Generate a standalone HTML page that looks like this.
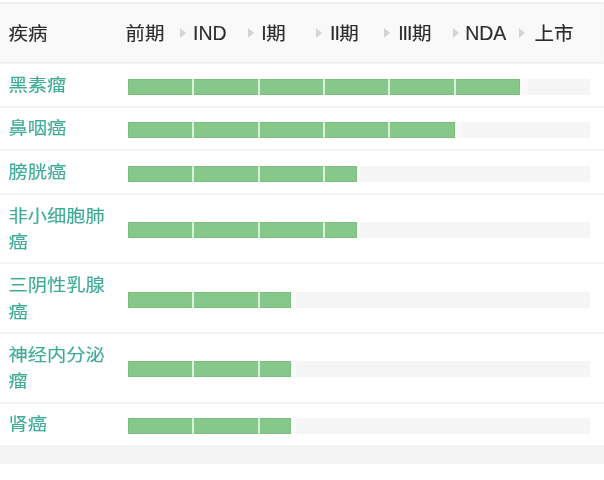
<!DOCTYPE html>
<html><head><meta charset="utf-8">
<style>
html,body{margin:0;padding:0;width:604px;height:480px;overflow:hidden;background:#fff;}
body{position:relative;filter:blur(0.4px);font-family:"Liberation Sans","Noto Sans CJK SC",sans-serif;}
.topline{position:absolute;left:0;top:2px;width:604px;height:2px;background:#f0f0f0;}
.hd{position:absolute;left:0;top:3px;width:604px;height:61px;background:#f9f9f9;}
.hdb{position:absolute;left:0;top:62px;width:604px;height:1px;background:#f0f0f0;box-shadow:0 1px 0 #f4f4f4;}
.t{position:absolute;line-height:20px;font-weight:400;white-space:nowrap;transform-origin:0 0;}
.h{-webkit-text-stroke:0.15px #2c2c2c;font-weight:400;color:#2c2c2c;font-size:19.5px;transform:scaleY(0.96);}
.n{-webkit-text-stroke:0.15px #3eab97;color:#3eab97;font-size:19.3px;transform:scaleY(0.9);}
.ar{position:absolute;width:0;height:0;border-left:6px solid #d4d4d4;border-top:5.25px solid transparent;border-bottom:5.25px solid transparent;top:27.6px;}
.sep{position:absolute;left:0;width:604px;height:2px;background:#f3f3f3;}
.trk{position:absolute;left:128px;width:462px;height:16px;background:#f5f5f6;}
.g{position:absolute;height:16px;background:#85c88a;box-shadow:inset 0 0 0 1px rgba(80,125,85,0.14);}
.la{display:inline-block;transform:scaleY(1.08);transform-origin:0 16px;}
.li{letter-spacing:-1px;margin-right:0.5px;}
.gap{position:absolute;height:16px;background:#f9f9f9;}
.vr{position:absolute;left:601px;top:3px;width:1px;height:60px;background:#f4f4f4;}
.s{position:absolute;width:2px;height:16px;background:#d8f2d8;}
.foot{position:absolute;left:0;top:445px;width:604px;height:18.5px;background:#f3f3f3;}
</style></head><body>
<div class="hd"></div>
<div class="topline"></div>
<div class="hdb"></div>
<div class="vr"></div>
<div class="t h" style="left:8.6px;top:24px">疾病</div>
<div class="t h" style="left:125.5px;top:24px">前期</div>
<div class="t h" style="left:193px;top:24px"><span class="la">IND</span></div>
<div class="t h" style="left:261.3px;top:24px"><span class="la li">I</span>期</div>
<div class="t h" style="left:330px;top:24px"><span class="la li">II</span>期</div>
<div class="t h" style="left:398.2px;top:24px"><span class="la li">III</span>期</div>
<div class="t h" style="left:465.2px;top:24px"><span class="la">NDA</span></div>
<div class="t h" style="left:534.6px;top:24px">上市</div>
<div class="ar" style="left:179.5px"></div>
<div class="ar" style="left:247.5px"></div>
<div class="ar" style="left:315.5px"></div>
<div class="ar" style="left:384.3px"></div>
<div class="ar" style="left:452.5px"></div>
<div class="ar" style="left:519.3px"></div>
<div class="sep" style="top:106px"></div>
<div class="sep" style="top:149px"></div>
<div class="sep" style="top:193px"></div>
<div class="sep" style="top:262px"></div>
<div class="sep" style="top:332px"></div>
<div class="sep" style="top:402px"></div>
<div class="foot"></div>
<div class="t n" style="left:8.5px;top:77px">黑素瘤</div>
<div class="t n" style="left:8.5px;top:120.2px">鼻咽癌</div>
<div class="t n" style="left:8.5px;top:164.1px">膀胱癌</div>
<div class="t n" style="left:8.5px;top:207.6px">非小细胞肺</div>
<div class="t n" style="left:8.5px;top:233.8px">癌</div>
<div class="t n" style="left:8.5px;top:276.8px">三阴性乳腺</div>
<div class="t n" style="left:8.5px;top:303.8px">癌</div>
<div class="t n" style="left:8.5px;top:346.9px">神经内分泌</div>
<div class="t n" style="left:8.5px;top:372.8px">瘤</div>
<div class="t n" style="left:8.5px;top:416.3px">肾癌</div>
<div class="trk" style="top:79px"></div>
<div class="g" style="top:79px;left:128px;width:392.00px"></div>
<div class="gap" style="top:79px;left:520.00px;width:8.00px"></div>
<div class="s" style="top:79px;left:192.33px"></div>
<div class="s" style="top:79px;left:257.67px"></div>
<div class="s" style="top:79px;left:323.00px"></div>
<div class="s" style="top:79px;left:388.33px"></div>
<div class="s" style="top:79px;left:453.67px"></div>
<div class="trk" style="top:122px"></div>
<div class="g" style="top:122px;left:128px;width:326.67px"></div>
<div class="gap" style="top:122px;left:454.67px;width:8.33px"></div>
<div class="s" style="top:122px;left:192.33px"></div>
<div class="s" style="top:122px;left:257.67px"></div>
<div class="s" style="top:122px;left:323.00px"></div>
<div class="s" style="top:122px;left:388.33px"></div>
<div class="trk" style="top:166px"></div>
<div class="g" style="top:166px;left:128px;width:228.67px"></div>
<div class="gap" style="top:166px;left:356.67px;width:3.33px"></div>
<div class="s" style="top:166px;left:192.33px"></div>
<div class="s" style="top:166px;left:257.67px"></div>
<div class="s" style="top:166px;left:323.00px"></div>
<div class="trk" style="top:222px"></div>
<div class="g" style="top:222px;left:128px;width:228.67px"></div>
<div class="gap" style="top:222px;left:356.67px;width:3.33px"></div>
<div class="s" style="top:222px;left:192.33px"></div>
<div class="s" style="top:222px;left:257.67px"></div>
<div class="s" style="top:222px;left:323.00px"></div>
<div class="trk" style="top:292px"></div>
<div class="g" style="top:292px;left:128px;width:163.33px"></div>
<div class="gap" style="top:292px;left:291.33px;width:4.67px"></div>
<div class="s" style="top:292px;left:192.33px"></div>
<div class="s" style="top:292px;left:257.67px"></div>
<div class="trk" style="top:361px"></div>
<div class="g" style="top:361px;left:128px;width:163.33px"></div>
<div class="gap" style="top:361px;left:291.33px;width:4.67px"></div>
<div class="s" style="top:361px;left:192.33px"></div>
<div class="s" style="top:361px;left:257.67px"></div>
<div class="trk" style="top:418px"></div>
<div class="g" style="top:418px;left:128px;width:163.33px"></div>
<div class="gap" style="top:418px;left:291.33px;width:4.67px"></div>
<div class="s" style="top:418px;left:192.33px"></div>
<div class="s" style="top:418px;left:257.67px"></div>
</body></html>
